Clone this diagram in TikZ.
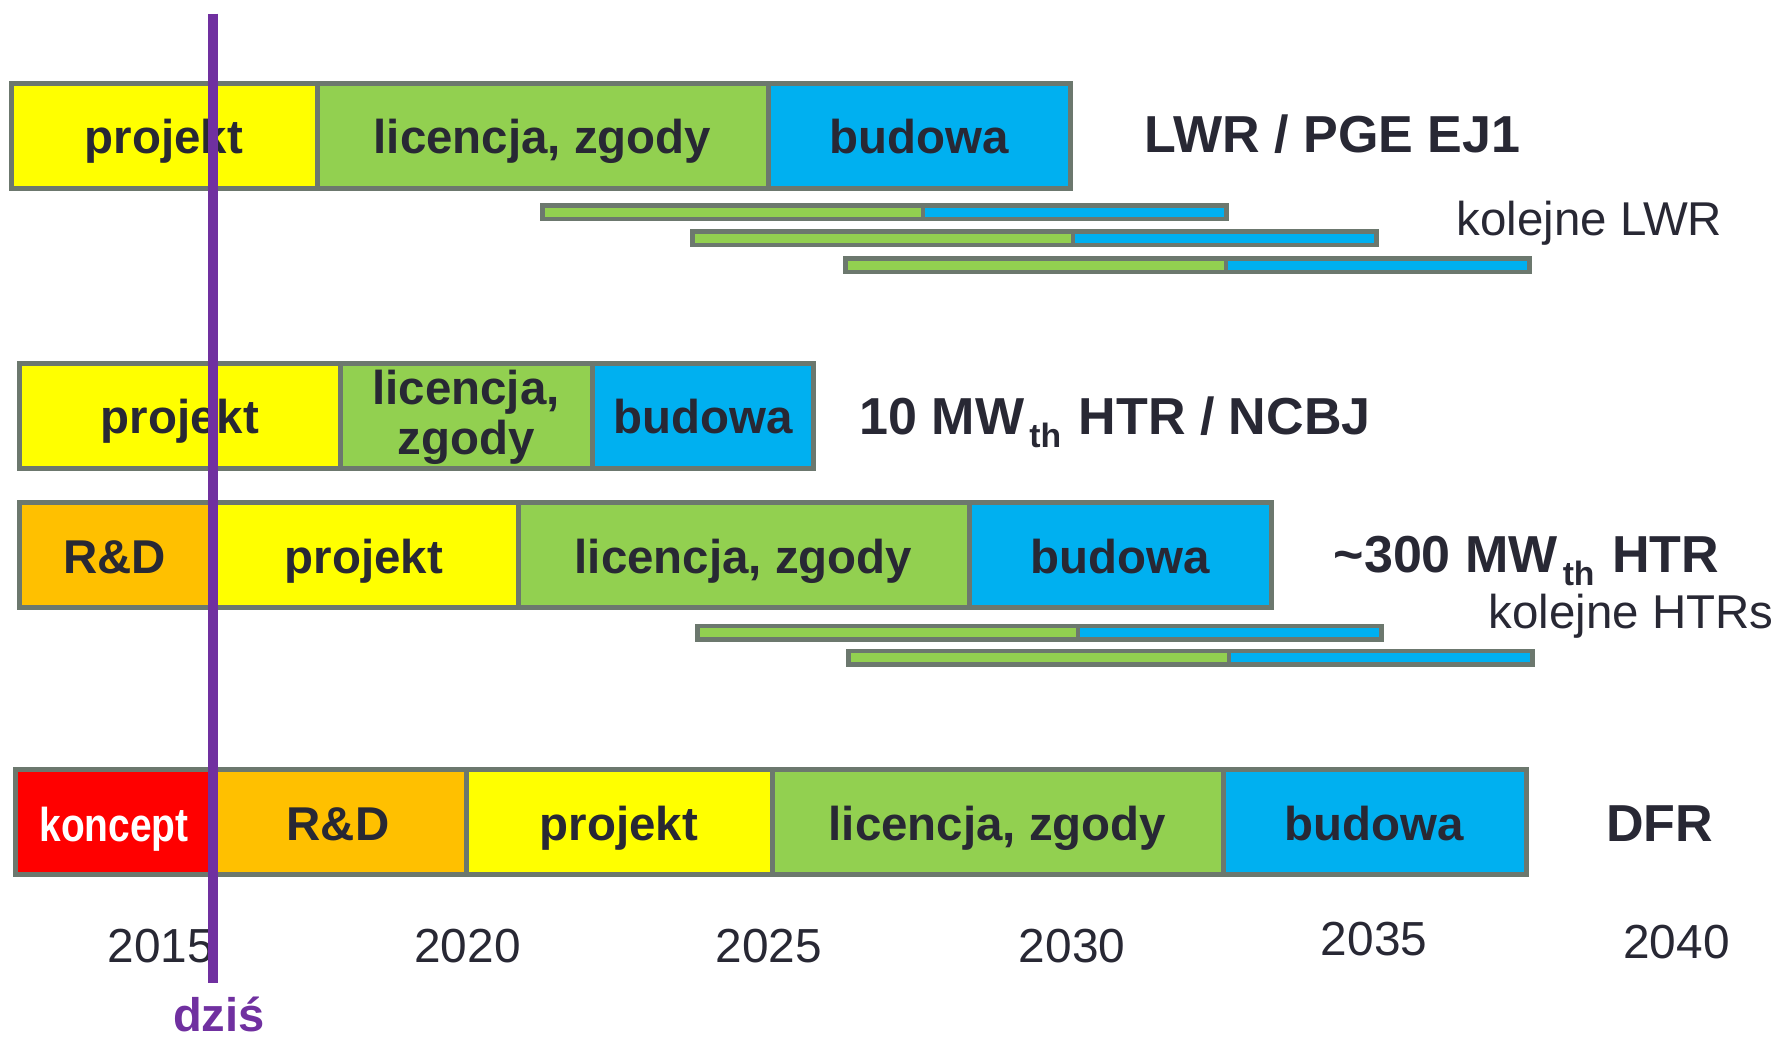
\documentclass[tikz,border=0pt]{standalone}
\usepackage{fontspec}
\setmainfont{Liberation Sans}
\usepackage{graphicx}
\usetikzlibrary{calc}
\definecolor{bgray}{RGB}{108,120,110}
\definecolor{cyel}{RGB}{255,255,0}
\definecolor{cgrn}{RGB}{146,208,80}
\definecolor{cblu}{RGB}{0,176,240}
\definecolor{corg}{RGB}{255,192,0}
\definecolor{cred}{RGB}{255,0,0}
\definecolor{cpur}{RGB}{112,48,160}
\definecolor{txt}{RGB}{40,40,52}
\begin{document}
\begin{tikzpicture}[x=0.1mm,y=-0.1mm,
  seg/.style={draw=bgray, line width=0.5mm, minimum height=10.5mm, inner sep=0, outer sep=0, anchor=west},
  thinseg/.style={draw=bgray, line width=0.45mm, minimum height=1.35mm, inner sep=0, outer sep=0, anchor=west},
  lbl/.style={anchor=base, inner sep=0, text=txt, font=\fontsize{13.5pt}{13.5pt}\selectfont\bfseries},
  ttl/.style={anchor=base west, inner sep=0, text=txt, font=\fontsize{14.8pt}{14.8pt}\selectfont\bfseries},
  sub/.style={anchor=base west, inner sep=0, text=txt, font=\fontsize{13.5pt}{13.5pt}\selectfont},
  yr/.style={anchor=base, inner sep=0, text=txt, font=\fontsize{13.6pt}{13.6pt}\selectfont},
  today/.style={line width=1mm, draw=cpur}
]
\useasboundingbox (0,0) rectangle (1777,1039);
\newcommand\thsub{\hspace{0.5mm}\raisebox{-1.3mm}{\fontsize{9.6pt}{9.6pt}\selectfont th}\hspace{0.3mm}}
\newcommand\thinbar[3]{%
  \node[thinseg, fill=cgrn, minimum width=38.05mm] (#1g) at (#2+2.5,#3) {};
  \node[thinseg, fill=cblu, minimum width=30.35mm] (#1b) at (#1g.east) {};}

% Row 1: LWR
\node[seg, fill=cyel, minimum width=30.6mm] (r1a) at (11,136) {};
\node[seg, fill=cgrn, minimum width=45.1mm] (r1b) at (r1a.east) {};
\node[seg, fill=cblu, minimum width=30.25mm] (r1c) at (r1b.east) {};
\node[lbl] (t1a) at ($(r1a.center)+(0,18)$) {projekt};
\node[lbl] (t1b) at ($(r1b.center)+(0,18)$) {licencja, zgody};
\node[lbl] (t1c) at ($(r1c.center)+(0,18)$) {budowa};
\node[ttl] (n1) at (1144,153) {LWR / PGE EJ1};

\thinbar{ka}{540}{212.5}
\thinbar{kb}{690}{238.3}
\thinbar{kc}{843}{265.5}
\node[sub] (k1) at (1456,236) {kolejne LWR};

% Row 2: 10 MW HTR
\node[seg, fill=cyel, minimum width=32.05mm] (r2a) at (19.5,415.75) {};
\node[seg, fill=cgrn, minimum width=25.2mm] (r2b) at (r2a.east) {};
\node[seg, fill=cblu, minimum width=22.15mm] (r2c) at (r2b.east) {};
\node[lbl] (t2a) at ($(r2a.center)+(0,18)$) {projekt};
\node[lbl] (t2b1) at ($(r2b.center)+(0,-10.75)$) {licencja,};
\node[lbl] (t2b2) at ($(r2b.center)+(0,39.25)$) {zgody};
\node[lbl] (t2c) at ($(r2c.center)+(0,18)$) {budowa};
\node[ttl] (n2) at (859,435) {10 MW\thsub{} HTR / NCBJ};

% Row 3: 300 MW HTR
\node[seg, fill=corg, minimum width=19.05mm] (r3a) at (19.5,555.5) {};
\node[seg, fill=cyel, minimum width=30.8mm] (r3b) at (r3a.east) {};
\node[seg, fill=cgrn, minimum width=45.1mm] (r3c) at (r3b.east) {};
\node[seg, fill=cblu, minimum width=30.2mm] (r3d) at (r3c.east) {};
\node[lbl] (t3a) at ($(r3a.center)+(0,18)$) {R\&D};
\node[lbl] (t3b) at ($(r3b.center)+(0,18)$) {projekt};
\node[lbl] (t3c) at ($(r3c.center)+(0,18)$) {licencja, zgody};
\node[lbl] (t3d) at ($(r3d.center)+(0,18)$) {budowa};
\node[ttl] (n3) at (1333,573) {\textasciitilde300 MW\thsub{} HTR};

\thinbar{hd}{695}{632.5}
\thinbar{he}{846}{657.9}
\node[sub] (k2) at (1488,629) {kolejne HTRs};

% Row 4: DFR
\node[seg, fill=cred, minimum width=19.5mm] (r4a) at (15,822) {};
\node[seg, fill=corg, minimum width=25.6mm] (r4b) at (r4a.east) {};
\node[seg, fill=cyel, minimum width=30.6mm] (r4c) at (r4b.east) {};
\node[seg, fill=cgrn, minimum width=45.1mm] (r4d) at (r4c.east) {};
\node[seg, fill=cblu, minimum width=30.3mm] (r4e) at (r4d.east) {};
\node[lbl, text=white] (t4a) at (114,841) {\scalebox{0.82}[1]{koncept}};
\node[lbl] (t4b) at ($(r4b.center)+(0,18)$) {R\&D};
\node[lbl] (t4c) at ($(r4c.center)+(0,18)$) {projekt};
\node[lbl] (t4d) at ($(r4d.center)+(0,18)$) {licencja, zgody};
\node[lbl] (t4e) at ($(r4e.center)+(0,18)$) {budowa};
\node[ttl] (n4) at (1605.5,841.7) {DFR};

% Years
\node[yr] (y15) at (161,962) {2015};
\node[yr] (y20) at (467.5,962) {2020};
\node[yr] (y25) at (769,962) {2025};
\node[yr] (y30) at (1072,962) {2030};
\node[yr] (y35) at (1374,955) {2035};
\node[yr] (y40) at (1676.5,958) {2040};

% Today line
\coordinate (d1) at (213,13.6);
\coordinate (d2) at (213,982.7);
\draw[today] (d1) -- (d2);
\node[lbl, text=cpur, font=\fontsize{13.4pt}{13.4pt}\selectfont\bfseries] (dz) at (219,1031) {dziś};
\end{tikzpicture}
\end{document}
